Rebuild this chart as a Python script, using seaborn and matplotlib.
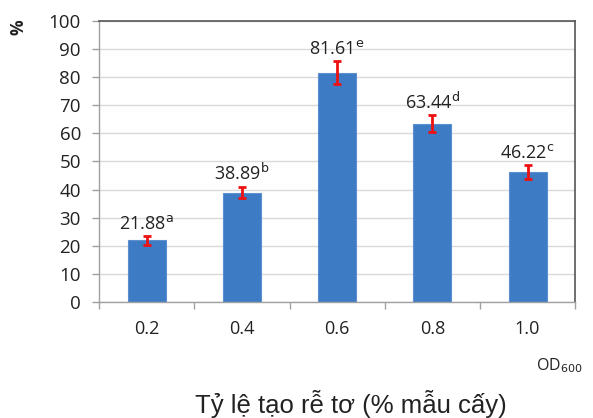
import matplotlib
matplotlib.use("Agg")
import matplotlib.pyplot as plt
import seaborn as sns
import pandas as pd

categories = ["0.2", "0.4", "0.6", "0.8", "1.0"]
values = [21.88, 38.89, 81.61, 63.44, 46.22]
errors = [1.6, 2.0, 4.2, 3.0, 2.5]
letters = ["a", "b", "e", "d", "c"]
yticks = [0, 10, 20, 30, 40, 50, 60, 70, 80, 90, 100]

sns.set_theme(style="white")
plt.rcParams['font.family'] = ['Open Sans', 'DejaVu Sans']

df = pd.DataFrame({"OD": categories, "val": values})

fig = plt.figure(figsize=(5.93, 4.18), dpi=100)
ax = fig.add_axes([0.167, 0.2775, 0.803, 0.6725])

sns.barplot(data=df, x="OD", y="val", ax=ax, color="#3E7BC5", width=0.4,
            saturation=1, edgecolor="#5B8FD0", linewidth=0.8, errorbar=None)

xs = list(range(len(categories)))
ax.errorbar(xs, values, yerr=errors, fmt="none", ecolor="#EE1111",
            elinewidth=2, capsize=3, capthick=2, zorder=5)

for x, v, e, l in zip(xs, values, errors, letters):
    ax.text(x, v + e + 1.0, f"{v:.2f}" + r"$^{\mathrm{" + l + "}}$",
            ha="center", va="bottom", fontsize=13, color="#222222")

ax.set_ylim(0, 100)
ax.set_xlim(-0.5, len(categories) - 0.5)
ax.set_yticks(yticks)
ax.set_yticklabels([str(t) for t in yticks], fontsize=13.5, color="#222222")
ax.yaxis.grid(True, color="#D9D9D9", linewidth=1)
ax.set_axisbelow(True)

# x ticks at category boundaries, labels at centers
ax.set_xticks([i - 0.5 for i in range(len(categories) + 1)], minor=False)
ax.set_xticklabels([])
ax.set_xticks(xs, minor=True)
ax.set_xticklabels(categories, minor=True, fontsize=13, color="#222222")
ax.tick_params(axis="x", which="major", direction="out", length=5, width=1, color="#A0A0A0", bottom=True)
ax.tick_params(axis="x", which="minor", length=0, pad=13)
ax.tick_params(axis="y", direction="out", length=5, width=1, color="#A0A0A0", left=True, pad=8)

for s in ["left", "bottom"]:
    ax.spines[s].set_color("#A0A0A0")
    ax.spines[s].set_linewidth(1)
for s in ["top", "right"]:
    ax.spines[s].set_color("#555555")
    ax.spines[s].set_linewidth(1.2)

ax.set_xlabel("")
ax.set_ylabel("")

fig.text(19 / 593, 1 - 27 / 418, "%", rotation=90, ha="center", va="center",
         fontsize=12.5, fontweight="bold", color="#222222")
fig.text(583 / 593, 1 - 366 / 418, r"OD$_{600}$", ha="right", va="center",
         fontsize=11.5, color="#222222")
fig.text(351 / 593, 1 - 404 / 418, "Tỷ lệ tạo rễ tơ (% mẫu cấy)", ha="center",
         va="center", fontsize=18.5, color="#222222", family=["Liberation Sans", "DejaVu Sans"])

fig.savefig("out.png", dpi=100)
